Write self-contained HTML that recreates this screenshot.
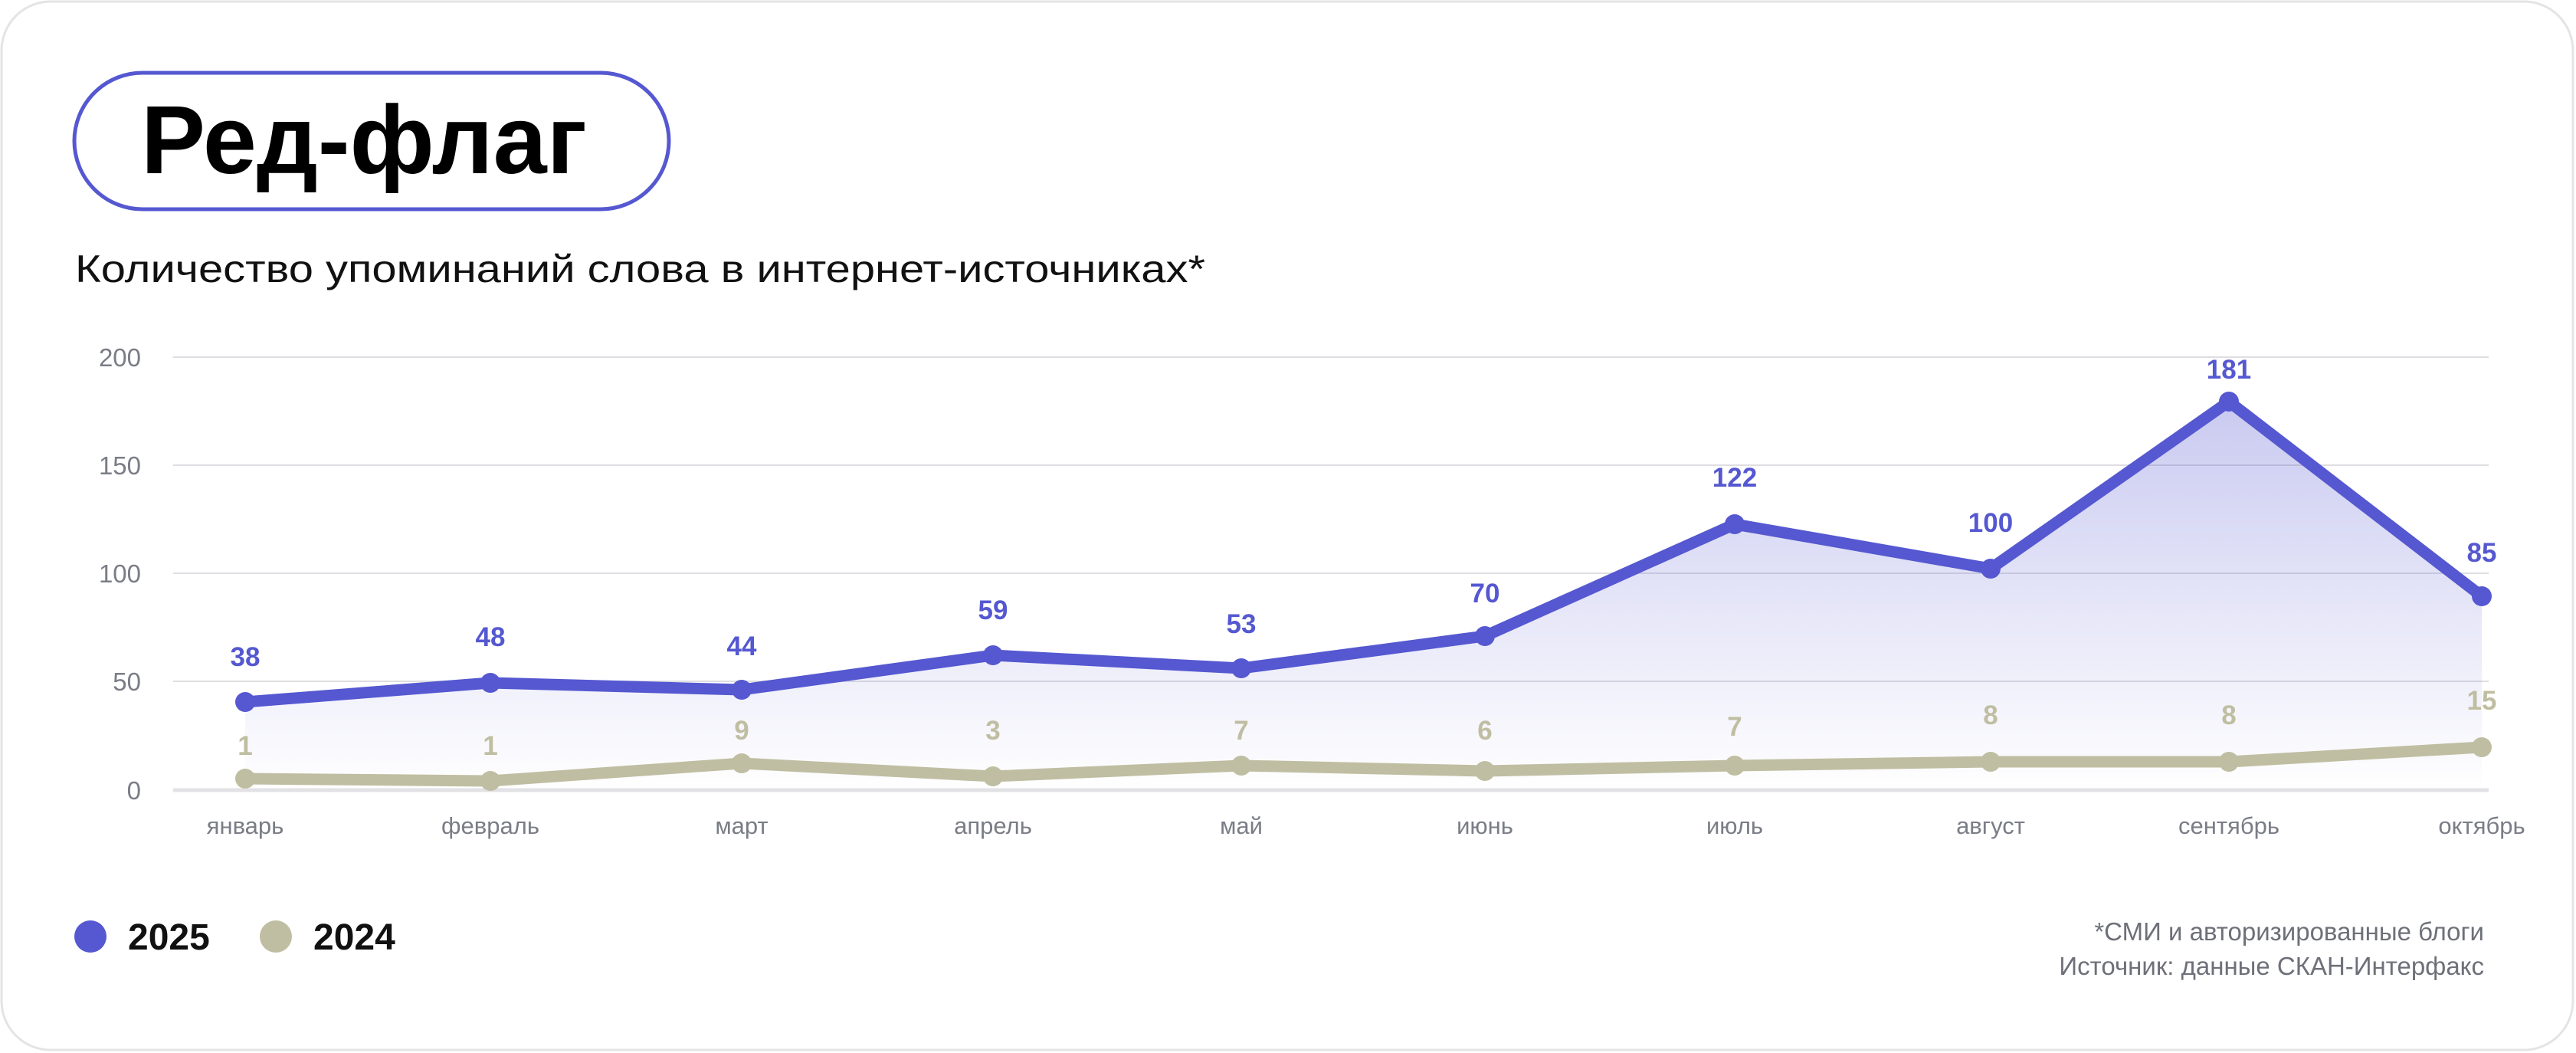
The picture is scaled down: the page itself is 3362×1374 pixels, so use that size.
<!DOCTYPE html>
<html><head><meta charset="utf-8"><style>
html,body{margin:0;padding:0;background:#fff;}
svg{display:block;}
text{font-family:"Liberation Sans",sans-serif;}
</style></head><body>
<svg width="3362" height="1374" viewBox="0 0 3362 1374" xmlns="http://www.w3.org/2000/svg">
<defs>
<linearGradient id="g" gradientUnits="userSpaceOnUse" x1="0" y1="520" x2="0" y2="1031">
<stop offset="0" stop-color="#5558d0" stop-opacity="0.32"/>
<stop offset="1" stop-color="#5558d0" stop-opacity="0"/>
</linearGradient>
</defs>
<rect x="2" y="2" width="3356" height="1368" rx="64" fill="#fff" stroke="#e4e4e6" stroke-width="3"/>
<rect x="97" y="95" width="776" height="178" rx="89" fill="#fff" stroke="#5558d0" stroke-width="5"/>
<text x="184" y="226" font-size="126" font-weight="bold" fill="#000" textLength="582" lengthAdjust="spacingAndGlyphs">Ред-флаг</text>
<text x="98" y="368" font-size="50" fill="#111" textLength="1475" lengthAdjust="spacingAndGlyphs">Количество упоминаний слова в интернет-источниках*</text>
<g stroke="#dedee2" stroke-width="2">
<line x1="226" y1="466" x2="3248" y2="466"/>
<line x1="226" y1="607" x2="3248" y2="607"/>
<line x1="226" y1="748" x2="3248" y2="748"/>
<line x1="226" y1="889" x2="3248" y2="889"/>
</g>
<line x1="226" y1="1031" x2="3248" y2="1031" stroke="#e2e2e6" stroke-width="5"/>
<g font-size="33" fill="#7a7d86" text-anchor="end">
<text x="184" y="478">200</text><text x="184" y="619">150</text><text x="184" y="760">100</text><text x="184" y="901">50</text><text x="184" y="1043">0</text>
</g>
<path d="M320,916 L640,891 L968,900 L1296,855 L1620,872 L1938,830 L2264,684 L2598,742 L2909,524 L3239,778 L3239,1031 L320,1031 Z" fill="url(#g)"/>
<polyline points="320,1016 640,1019 968,996 1296,1013 1620,999 1938,1006 2264,999 2598,994 2909,994 3239,975" fill="none" stroke="#c0bea2" stroke-width="15" stroke-linejoin="round"/>
<g fill="#c0bea2">
<circle cx="320" cy="1016" r="13"/><circle cx="640" cy="1019" r="13"/><circle cx="968" cy="996" r="13"/><circle cx="1296" cy="1013" r="13"/><circle cx="1620" cy="999" r="13"/><circle cx="1938" cy="1006" r="13"/><circle cx="2264" cy="999" r="13"/><circle cx="2598" cy="994" r="13"/><circle cx="2909" cy="994" r="13"/><circle cx="3239" cy="975" r="13"/>
</g>
<polyline points="320,916 640,891 968,900 1296,855 1620,872 1938,830 2264,684 2598,742 2909,524 3239,778" fill="none" stroke="#5558d0" stroke-width="15" stroke-linejoin="round"/>
<g fill="#5558d0">
<circle cx="320" cy="916" r="13"/><circle cx="640" cy="891" r="13"/><circle cx="968" cy="900" r="13"/><circle cx="1296" cy="855" r="13"/><circle cx="1620" cy="872" r="13"/><circle cx="1938" cy="830" r="13"/><circle cx="2264" cy="684" r="13"/><circle cx="2598" cy="742" r="13"/><circle cx="2909" cy="524" r="13"/><circle cx="3239" cy="778" r="13"/>
</g>
<g font-size="35" font-weight="bold" fill="#5558d0" text-anchor="middle">
<text x="320" y="869">38</text><text x="640" y="843">48</text><text x="968" y="855">44</text><text x="1296" y="808">59</text><text x="1620" y="826">53</text><text x="1938" y="786">70</text><text x="2264" y="635">122</text><text x="2598" y="694">100</text><text x="2909" y="494">181</text><text x="3239" y="733">85</text>
</g>
<g font-size="35" font-weight="bold" fill="#c0bea2" text-anchor="middle">
<text x="320" y="985">1</text><text x="640" y="985">1</text><text x="968" y="965">9</text><text x="1296" y="965">3</text><text x="1620" y="965">7</text><text x="1938" y="965">6</text><text x="2264" y="960">7</text><text x="2598" y="945">8</text><text x="2909" y="945">8</text><text x="3239" y="926">15</text>
</g>
<g font-size="31" fill="#7a7d86" text-anchor="middle">
<text x="320" y="1088">январь</text><text x="640" y="1088">февраль</text><text x="968" y="1088">март</text><text x="1296" y="1088">апрель</text><text x="1620" y="1088">май</text><text x="1938" y="1088">июнь</text><text x="2264" y="1088">июль</text><text x="2598" y="1088">август</text><text x="2909" y="1088">сентябрь</text><text x="3239" y="1088">октябрь</text>
</g>
<circle cx="118" cy="1222" r="21" fill="#5558d0"/>
<text x="167" y="1239" font-size="48" font-weight="bold" fill="#111">2025</text>
<circle cx="360" cy="1222" r="21" fill="#c0bea2"/>
<text x="409" y="1239" font-size="48" font-weight="bold" fill="#111">2024</text>
<g font-size="33" fill="#6e7079" text-anchor="end">
<text x="3242" y="1227">*СМИ и авторизированные блоги</text>
<text x="3242" y="1272">Источник: данные СКАН-Интерфакс</text>
</g>
</svg>
</body></html>
